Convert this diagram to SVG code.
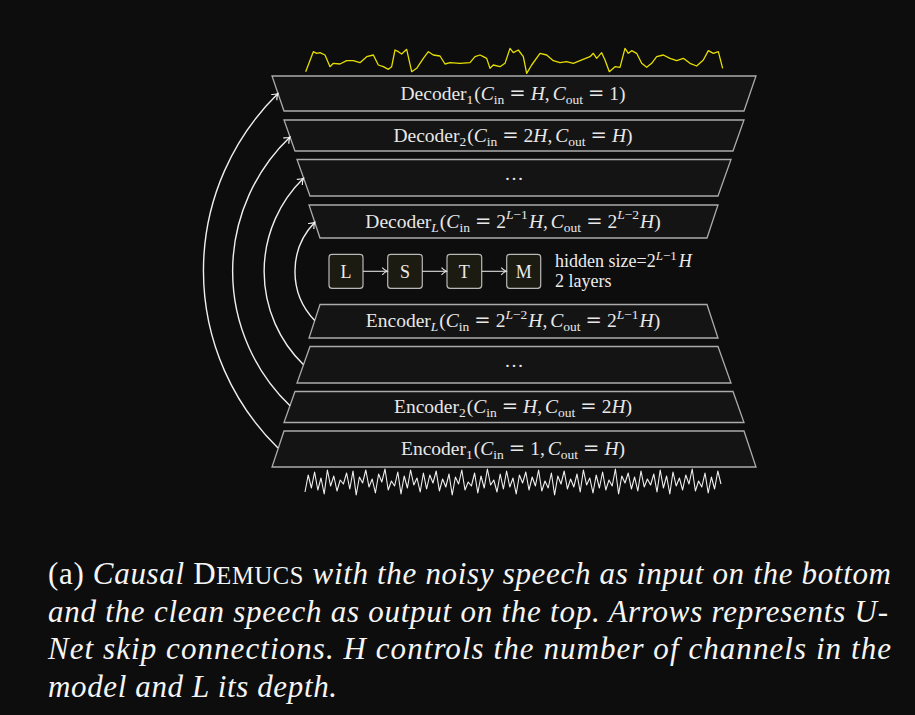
<svg xmlns="http://www.w3.org/2000/svg" width="915" height="715" viewBox="0 0 915 715">
<defs>
<style>
.bg{fill:#0d0d0d}
.trap{fill:#141414;stroke:#ababab;stroke-width:1.3}
.lbl{font-family:"Liberation Serif",serif;font-size:19.5px;fill:#e8e8e8}
.m{font-style:italic}
.sb{font-size:13.5px}
.eq{font-family:"DejaVu Serif",serif}
.dots{font-family:"Liberation Serif",serif;font-size:19.5px;fill:#e8e8e8;text-anchor:middle}
.box{fill:#1c1b12;stroke:#b8b8b8;stroke-width:1.2}
.bt{font-family:"Liberation Serif",serif;font-size:18px;fill:#ececec;text-anchor:middle}
.t2{font-family:"Liberation Serif",serif;font-size:18px;fill:#ececec}
.skip{fill:none;stroke:#efefef;stroke-width:1.4;marker-end:url(#arr)}
.la{fill:none;stroke:#e0e0e0;stroke-width:1.1;marker-end:url(#arr2)}
.cap{font-family:"Liberation Serif",serif;font-size:31px;fill:#f5f5f5;font-style:italic}
.up{font-style:normal}
</style>
<marker id="arr" markerUnits="userSpaceOnUse" viewBox="-7 -6 9 12" markerWidth="9" markerHeight="12" refX="0" refY="0" orient="auto">
<path d="M-5.5,-4 C-3.5,-1.8 -1.2,-0.5 0,0 C-1.2,0.5 -3.5,1.8 -5.5,4" fill="none" stroke="#efefef" stroke-width="1.2"/>
</marker>
<marker id="arr2" markerUnits="userSpaceOnUse" viewBox="-7 -6 9 12" markerWidth="9" markerHeight="12" refX="0" refY="0" orient="auto">
<path d="M-5,-3.6 C-3.2,-1.6 -1.1,-0.4 0,0 C-1.1,0.4 -3.2,1.6 -5,3.6" fill="none" stroke="#e0e0e0" stroke-width="1.1"/>
</marker>
</defs>
<rect class="bg" x="0" y="0" width="915" height="715"/>

<g id="waveform-out">
<polyline transform="translate(260,40) scale(0.33333)" vector-effect="non-scaling-stroke" fill="none" stroke="#e6de00" stroke-width="1.3" stroke-linejoin="round" points="137,95 160,35 170,40 180,38 195,45 210,80 220,70 240,72 260,62 280,62 300,68 320,50 340,45 355,75 370,80 385,88 395,80 405,30 415,35 425,42 440,28 455,95 470,85 490,55 505,35 520,45 540,48 555,72 570,68 600,70 630,68 645,50 660,45 670,50 680,55 690,85 700,75 720,80 735,70 750,25 760,38 775,30 790,50 800,100 815,75 840,40 860,45 880,62 900,68 920,65 940,70 960,62 990,50 1000,40 1010,55 1025,38 1035,60 1048,95 1065,80 1080,82 1095,25 1105,40 1115,32 1130,40 1145,70 1160,82 1175,70 1190,50 1210,45 1230,55 1250,62 1270,55 1290,70 1310,78 1330,60 1345,32 1360,40 1375,35 1388,85"/>
</g>

<g id="waveform-in">
<polyline transform="translate(305,0) scale(3.2,1)" vector-effect="non-scaling-stroke" fill="none" stroke="#f0f0f0" stroke-width="1.1" stroke-linejoin="round" points="0,492 1,475 2,488 3,472 4,490 5,478 6,494 7,470 8,486 9,476 10,491 11,480 12,484 13,473 14,489 15,471 16,495 17,477 18,483 19,470 20,487 21,479 22,493 23,474 24,482 25,469 26,490 27,481 28,486 29,472 30,494 31,476 32,488 33,470 34,485 35,478 36,492 37,473 38,489 39,475 40,483 41,471 42,491 43,479 44,487 45,474 46,495 47,477 48,484 49,470 50,490 51,482 52,486 53,473 54,493 55,476 56,488 57,469 58,485 59,480 60,492 61,474 62,489 63,471 64,487 65,478 66,494 67,475 68,483 69,472 70,490 71,477 72,486 73,470 74,491 75,481 76,488 77,473 78,495 79,476 80,484 81,471 82,489 83,479 84,487 85,474 86,492 87,470 88,485 89,478 90,493 91,475 92,488 93,472 94,490 95,480 96,486 97,469 98,494 99,476 100,483 101,473 102,489 103,477 104,491 105,471 106,487 107,479 108,485 109,474 110,492 111,470 112,488 113,476 114,494 115,472 116,486 117,478 118,490 119,475 120,484 121,469 122,491 123,481 124,487 125,473 126,493 127,477 128,489 129,471 130,484"/>
</g>

<g id="decoder1">
<polygon class="trap" points="272,76 756,76 744,111 284,111"/>
<text class="lbl" x="513" y="99.5" text-anchor="middle">Decoder<tspan class="sb" dy="4">1</tspan><tspan dy="-4" dx="1">(</tspan><tspan class="m">C</tspan><tspan class="sb" dy="4">in</tspan><tspan class="eq" dy="-4" dx="5">=</tspan><tspan class="m" dx="5">H</tspan>,<tspan class="m" dx="3">C</tspan><tspan class="sb" dy="4">out</tspan><tspan class="eq" dy="-4" dx="5">=</tspan><tspan dx="5">1)</tspan></text>
</g>

<g id="decoder2">
<polygon class="trap" points="284,120 744,120 733,151 295,151"/>
<text class="lbl" x="513" y="141.5" text-anchor="middle">Decoder<tspan class="sb" dy="4">2</tspan><tspan dy="-4" dx="1">(</tspan><tspan class="m">C</tspan><tspan class="sb" dy="4">in</tspan><tspan class="eq" dy="-4" dx="5">=</tspan><tspan dx="5">2</tspan><tspan class="m">H</tspan>,<tspan class="m" dx="3">C</tspan><tspan class="sb" dy="4">out</tspan><tspan class="eq" dy="-4" dx="5">=</tspan><tspan class="m" dx="5">H</tspan>)</text>
</g>

<g id="decoder-dots">
<polygon class="trap" points="297,159.5 731,159.5 718,196 310,196"/>
<text class="dots" x="514" y="180">…</text>
</g>

<g id="decoderL">
<polygon class="trap" points="309,205 718,205 707,238 320,238"/>
<text class="lbl" x="513" y="227.5" text-anchor="middle">Decoder<tspan class="sb m" dy="4">L</tspan><tspan dy="-4" dx="1">(</tspan><tspan class="m">C</tspan><tspan class="sb" dy="4">in</tspan><tspan class="eq" dy="-4" dx="5">=</tspan><tspan dx="5">2</tspan><tspan class="sb" dy="-8.5"><tspan class="m">L</tspan>−1</tspan><tspan class="m" dy="8.5" dx="1">H</tspan>,<tspan class="m" dx="3">C</tspan><tspan class="sb" dy="4">out</tspan><tspan class="eq" dy="-4" dx="5">=</tspan><tspan dx="5">2</tspan><tspan class="sb" dy="-8.5"><tspan class="m">L</tspan>−2</tspan><tspan class="m" dy="8.5" dx="1">H</tspan>)</text>
</g>

<g id="lstm-L">
<rect class="box" x="329" y="254.3" width="34" height="34" rx="3"/>
<text class="bt" x="346" y="278">L</text>
</g>
<g id="lstm-S">
<rect class="box" x="387.7" y="254.3" width="34.6" height="34" rx="3"/>
<text class="bt" x="405" y="278">S</text>
</g>
<g id="lstm-T">
<rect class="box" x="447" y="254.3" width="34.7" height="34" rx="3"/>
<text class="bt" x="464.3" y="278">T</text>
</g>
<g id="lstm-M">
<rect class="box" x="506.7" y="254.3" width="34" height="34" rx="3"/>
<text class="bt" x="523.7" y="278">M</text>
</g>
<g id="lstm-info">
<text class="t2" x="555" y="266.5">hidden size=2<tspan font-size="13" dy="-7"><tspan font-style="italic">L</tspan>−1</tspan><tspan font-style="italic" dy="7" dx="2">H</tspan></text>
<text class="t2" x="555" y="287">2 layers</text>
</g>

<g id="encoderL">
<polygon class="trap" points="320,304.5 707,304.5 718,338 309,338"/>
<text class="lbl" x="513" y="327" text-anchor="middle">Encoder<tspan class="sb m" dy="4">L</tspan><tspan dy="-4" dx="1">(</tspan><tspan class="m">C</tspan><tspan class="sb" dy="4">in</tspan><tspan class="eq" dy="-4" dx="5">=</tspan><tspan dx="5">2</tspan><tspan class="sb" dy="-8.5"><tspan class="m">L</tspan>−2</tspan><tspan class="m" dy="8.5" dx="1">H</tspan>,<tspan class="m" dx="3">C</tspan><tspan class="sb" dy="4">out</tspan><tspan class="eq" dy="-4" dx="5">=</tspan><tspan dx="5">2</tspan><tspan class="sb" dy="-8.5"><tspan class="m">L</tspan>−1</tspan><tspan class="m" dy="8.5" dx="1">H</tspan>)</text>
</g>

<g id="encoder-dots">
<polygon class="trap" points="310,346.5 718,346.5 731,383 297,383"/>
<text class="dots" x="514" y="367">…</text>
</g>

<g id="encoder2">
<polygon class="trap" points="295,391.5 733,391.5 744,422.5 284,422.5"/>
<text class="lbl" x="513" y="413" text-anchor="middle">Encoder<tspan class="sb" dy="4">2</tspan><tspan dy="-4" dx="1">(</tspan><tspan class="m">C</tspan><tspan class="sb" dy="4">in</tspan><tspan class="eq" dy="-4" dx="5">=</tspan><tspan class="m" dx="5">H</tspan>,<tspan class="m" dx="3">C</tspan><tspan class="sb" dy="4">out</tspan><tspan class="eq" dy="-4" dx="5">=</tspan><tspan dx="5">2</tspan><tspan class="m">H</tspan>)</text>
</g>

<g id="encoder1">
<polygon class="trap" points="284,431 744,431 756,467 272,467"/>
<text class="lbl" x="513" y="454.5" text-anchor="middle">Encoder<tspan class="sb" dy="4">1</tspan><tspan dy="-4" dx="1">(</tspan><tspan class="m">C</tspan><tspan class="sb" dy="4">in</tspan><tspan class="eq" dy="-4" dx="5">=</tspan><tspan dx="5">1,</tspan><tspan class="m" dx="3">C</tspan><tspan class="sb" dy="4">out</tspan><tspan class="eq" dy="-4" dx="5">=</tspan><tspan class="m" dx="5">H</tspan>)</text>
</g>

<g id="connectors">
<path class="skip" d="M278,448 A248,248 0 0 1 278,93.5"/>
<path class="skip" d="M290,405.7 A186,186 0 0 1 290,137"/>
<path class="skip" d="M303.3,364.5 A130,130 0 0 1 303.5,178.3"/>
<path class="skip" d="M314.7,320.4 A70.7,70.7 0 0 1 314.8,222.3"/>
<line class="la" x1="363" y1="271.3" x2="387.2" y2="271.3"/>
<line class="la" x1="422.3" y1="271.3" x2="446.5" y2="271.3"/>
<line class="la" x1="481.7" y1="271.3" x2="506.2" y2="271.3"/>
</g>

<g id="caption">
<text class="cap" x="48" y="584" textLength="843" lengthAdjust="spacing"><tspan class="up">(a) </tspan>Causal <tspan class="up">D<tspan font-size="24.5">EMUCS</tspan></tspan> with the noisy speech as input on the bottom</text>
<text class="cap" x="48" y="621.5" textLength="840" lengthAdjust="spacing">and the clean speech as output on the top. Arrows represents U-</text>
<text class="cap" x="48" y="659" textLength="843" lengthAdjust="spacing">Net skip connections.  H controls the number of channels in the</text>
<text class="cap" x="48" y="696.5" textLength="289" lengthAdjust="spacing">model and L its depth.</text>
</g>
</svg>
